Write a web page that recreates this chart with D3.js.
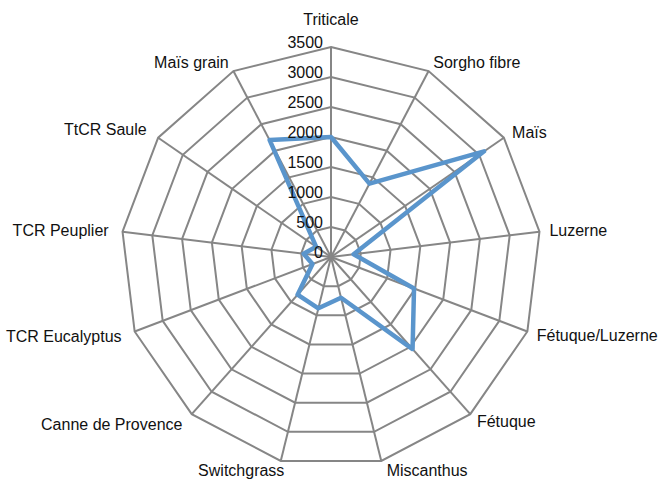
<!DOCTYPE html>
<html>
<head>
<meta charset="utf-8">
<script src="https://cdn.jsdelivr.net/npm/d3@7"></script>
<style>
  html, body { margin: 0; padding: 0; background: #fff; }
  svg { display: block; }
  text { font-family: "Liberation Sans", Arial, sans-serif; font-size: 16px; fill: #111; }
</style>
</head>
<body>
<script>
const categories = ["Triticale", "Sorgho fibre", "Maïs", "Luzerne", "Fétuque/Luzerne", "Fétuque",
  "Miscanthus", "Switchgrass", "Canne de Provence", "TCR Eucalyptus", "TCR Peuplier", "TtCR Saule", "Maïs grain"];
const values = [2000, 1380, 3100, 380, 1480, 2050, 700, 880, 840, 330, 460, 300, 2200];
const tickValues = [0, 500, 1000, 1500, 2000, 2500, 3000, 3500];
const tickLabels = ["0", "500", "1000", "1500", "2000", "2500", "3000", "3500"];

const W = 659, H = 479;
const cx = 331, cy = 257, R = 210;

const svg = d3.select("body").append("svg").attr("width", W).attr("height", H);
const g = svg.append("g").attr("transform", `translate(${cx},${cy})`);

const r = d3.scaleLinear().domain([0, 3500]).range([0, R]);
const angle = d3.scaleLinear().domain([0, categories.length]).range([0, 2 * Math.PI]);
const px = (a, rad) => rad * Math.sin(a);
const py = (a, rad) => -rad * Math.cos(a);

// grid polygons
const ringLine = d3.lineRadial().angle((d, i) => angle(i)).radius(d => r(d)).curve(d3.curveLinearClosed);
tickValues.slice(1).forEach(t => {
  g.append("path").attr("d", ringLine(categories.map(() => t)))
    .attr("fill", "none").attr("stroke", "#868686").attr("stroke-width", 2);
});
// spokes
categories.forEach((c, i) => {
  const a = angle(i);
  g.append("line").attr("x1", 0).attr("y1", 0)
    .attr("x2", px(a, r(3500))).attr("y2", py(a, r(3500)))
    .attr("stroke", "#868686").attr("stroke-width", 2);
});

// data series
const dataLine = d3.lineRadial().angle((d, i) => angle(i)).radius(d => r(d)).curve(d3.curveLinearClosed);
g.append("path").attr("d", dataLine(values))
  .attr("fill", "none").attr("stroke", "#5A95CC").attr("stroke-width", 4.5)
  .attr("stroke-linejoin", "round");

// value axis labels
tickValues.forEach((t, i) => {
  g.append("text").attr("x", -8).attr("y", -r(t) - 5)
    .attr("text-anchor", "end").attr("dominant-baseline", "central")
    .text(tickLabels[i]);
});

// category labels
categories.forEach((c, i) => {
  const a = angle(i);
  const s = Math.sin(a);
  let x, y, anchor;
  if (Math.abs(s) < 1e-6) {
    x = 0; y = py(a, r(3500)) - 28; anchor = "middle";
  } else {
    const rr = r(3500) + ((s < -0.5) ? 14 : 10);
    x = px(a, rr); y = py(a, rr);
    anchor = s > 0 ? "start" : "end";
    if (Math.abs(s) < 0.3) x += (s > 0 ? 3 : 6);
  }
  g.append("text").attr("x", x).attr("y", y)
    .attr("text-anchor", anchor).attr("dominant-baseline", "central")
    .text(c);
});
</script>
</body>
</html>
